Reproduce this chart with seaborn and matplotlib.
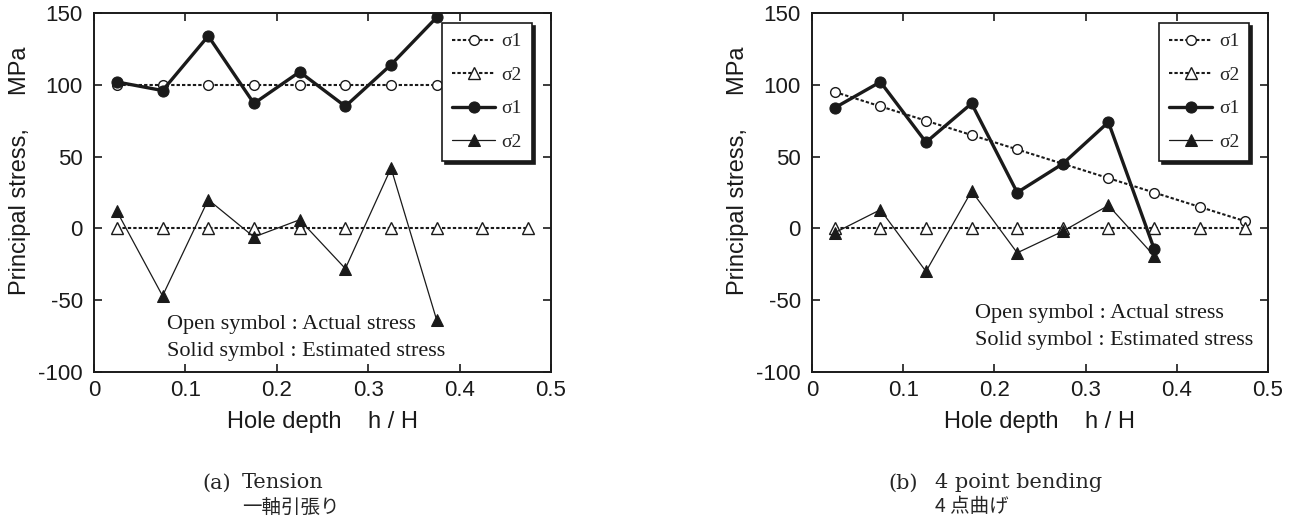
import matplotlib
matplotlib.use("Agg")
import matplotlib.pyplot as plt
import seaborn as sns

# ---------------- data ----------------
depth_all = [0.025, 0.075, 0.125, 0.175, 0.225, 0.275, 0.325, 0.375, 0.425, 0.475]
depth_8 = [0.025, 0.075, 0.125, 0.175, 0.225, 0.275, 0.325, 0.375]

tension_actual_s1 = [100, 100, 100, 100, 100, 100, 100, 100]
tension_actual_s2 = [0, 0, 0, 0, 0, 0, 0, 0, 0, 0]
tension_est_s1 = [102, 96, 134, 87, 109, 85, 114, 147]
tension_est_s2 = [12, -47, 20, -6, 6, -28, 42, -64]

bending_actual_s1 = [95, 85, 75, 65, 55, 45, 35, 25, 15, 5]
bending_actual_s2 = [0, 0, 0, 0, 0, 0, 0, 0, 0, 0]
bending_est_s1 = [84, 102, 60, 87, 25, 45, 74, -14]
bending_est_s2 = [-3, 13, -30, 26, -17, -2, 16, -19]

legend_labels = ["σ1", "σ2", "σ1", "σ2"]
x_ticks = [0, 0.1, 0.2, 0.3, 0.4, 0.5]
x_tick_labels = ["0", "0.1", "0.2", "0.3", "0.4", "0.5"]
y_ticks = [-100, -50, 0, 50, 100, 150]
x_label = "Hole depth    h / H"
y_label = "Principal stress,     MPa"
note_lines = ["Open symbol : Actual stress", "Solid symbol : Estimated stress"]
captions = [("(a)", "Tension", "一軸引張り"), ("(b)", "4 point bending", "4 点曲げ")]

# ---------------- style ----------------
sns.set_theme(style="ticks")
plt.rcParams["font.family"] = ["Liberation Sans", "DejaVu Sans"]
plt.rcParams["axes.linewidth"] = 1.4
plt.rcParams["axes.unicode_minus"] = False

W, H = 1293, 526
fig = plt.figure(figsize=(W / 100, H / 100), dpi=100)
fig.patch.set_facecolor("white")

ax_boxes = [(94, 13, 551, 372), (812, 13, 1268, 372)]
datasets = [
    (tension_actual_s1, tension_actual_s2, tension_est_s1, tension_est_s2),
    (bending_actual_s1, bending_actual_s2, bending_est_s1, bending_est_s2),
]
note_y = [(0.131, 0.056), (0.164, 0.089)]
note_x = [0.16, 0.357]

dotted = (0, (1.6, 1.0))
serif = ["Liberation Serif", "DejaVu Serif"]

for i, ((l, t, r, b), (a1, a2, e1, e2)) in enumerate(zip(ax_boxes, datasets)):
    ax = fig.add_axes([l / W, 1 - b / H, (r - l) / W, (b - t) / H])
    sns.lineplot(x=depth_all[:len(a1)], y=a1, ax=ax, color="k", linestyle=dotted, linewidth=1.5,
                 marker="o", markersize=7, markerfacecolor="white", markeredgecolor="k",
                 markeredgewidth=1.0, label=legend_labels[0], zorder=3)
    sns.lineplot(x=depth_all[:len(a2)], y=a2, ax=ax, color="k", linestyle=dotted, linewidth=1.5,
                 marker="^", markersize=8, markerfacecolor="white", markeredgecolor="k",
                 markeredgewidth=1.0, label=legend_labels[1], zorder=3)
    sns.lineplot(x=depth_8, y=e1, ax=ax, color="k", linestyle="-", linewidth=2.4,
                 marker="o", markersize=8, markerfacecolor="k", markeredgecolor="k",
                 label=legend_labels[2], zorder=4)
    sns.lineplot(x=depth_8, y=e2, ax=ax, color="k", linestyle="-", linewidth=0.9,
                 marker="^", markersize=9, markerfacecolor="k", markeredgecolor="k",
                 label=legend_labels[3], zorder=4)

    ax.set_xlim(0, 0.5)
    ax.set_ylim(-100, 150)
    ax.set_xticks(x_ticks)
    ax.set_xticklabels(x_tick_labels)
    ax.set_yticks(y_ticks)
    ax.tick_params(direction="in", top=True, right=True, length=6, width=1.2,
                   labelsize=16, colors="k")
    ax.tick_params(axis="y", pad=8)
    ax.tick_params(axis="x", pad=6)
    for s in ax.spines.values():
        s.set_visible(True)
        s.set_color("k")
        s.set_linewidth(1.4)
    ax.set_xlabel(x_label, fontsize=17, color="k")
    ax.set_ylabel(y_label, fontsize=17, color="k")
    ax.yaxis.set_label_coords(-0.138, 0.56)
    ax.xaxis.set_label_coords(0.5, -0.11)

    handles, labels = ax.get_legend_handles_labels()
    leg = ax.legend(handles, labels, loc="upper right", bbox_to_anchor=(0.958, 0.972),
                    borderaxespad=0.0,
                    frameon=True, fancybox=False, shadow={"color": "k", "alpha": 1},
                    edgecolor="k", framealpha=1, borderpad=0.5, labelspacing=0.82,
                    handlelength=2.2, handletextpad=0.35,
                    prop={"family": serif, "size": 14})
    leg.get_frame().set_linewidth(1.2)

    for ln, yy in zip(note_lines, note_y[i]):
        ax.text(note_x[i], yy, ln, transform=ax.transAxes, fontsize=16,
                family=serif, va="center", ha="left", color="k")

cap_x = [(202, 242), (888, 935)]
for (tag, name, jp), (x0, x1) in zip(captions, cap_x):
    fig.text(x0 / W, 1 - 483 / H, tag, fontsize=15, family=["DejaVu Serif"], va="center", ha="left")
    fig.text(x1 / W, 1 - 483 / H, name, fontsize=15, family=["DejaVu Serif"], va="center", ha="left")
    fig.text(x1 / W, 1 - 507 / H, jp, fontsize=14,
             family=["Noto Sans CJK JP", "DejaVu Serif"], va="center", ha="left")

fig.savefig("out.png", dpi=100, facecolor="white")
